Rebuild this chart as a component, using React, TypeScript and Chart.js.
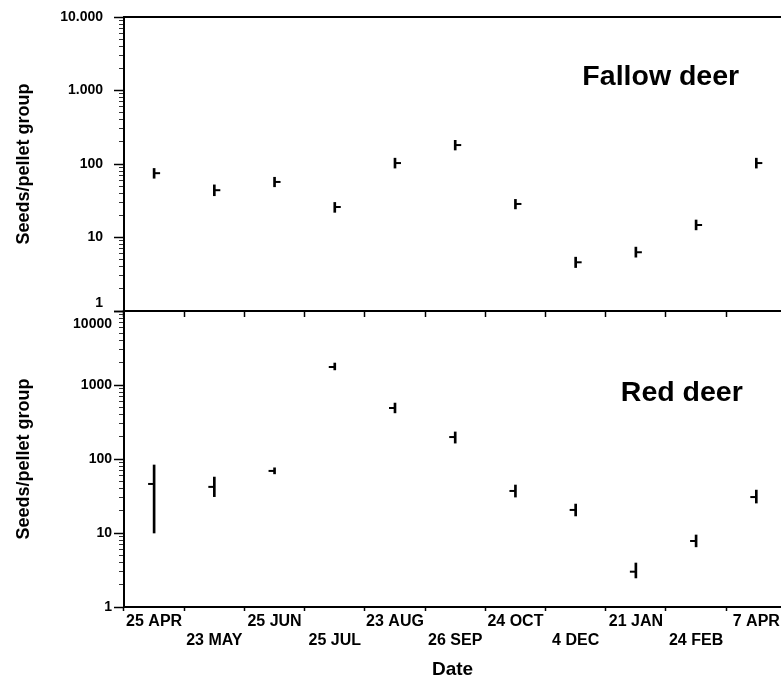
import React, { useEffect, useRef } from 'react';
import Chart from 'chart.js/auto';

const dates = ['25 APR', '23 MAY', '25 JUN', '25 JUL', '23 AUG', '26 SEP', '24 OCT', '4 DEC', '21 JAN', '24 FEB', '7 APR'];

const fallowMean = [75, 44, 57, 26, 103, 181, 28.6, 4.6, 6.3, 14.8, 103];
const fallowLow = [64, 37, 49, 22, 88, 155, 24.5, 3.9, 5.4, 12.7, 88];
const fallowHigh = [87, 52, 66, 30, 120, 210, 33, 5.4, 7.4, 17.3, 120];

const redMean = [46, 42, 69, 1750, 489, 198, 37, 20.5, 3.0, 7.8, 30.6];
const redLow = [10, 31, 63, 1600, 420, 164, 30.6, 17, 2.47, 6.5, 25.4];
const redHigh = [83, 57, 76, 1980, 570, 232, 44.5, 24.6, 3.93, 9.4, 38];

const majorTicks = [1, 10, 100, 1000, 10000];
const fallowTickLabels = ['1', '10', '100', '1.000', '10.000'];
const redTickLabels = ['1', '10', '100', '1000', '10000'];
const minorMultipliers = [2, 3, 4, 5, 6, 7, 8, 9];

const FONT = '"Liberation Sans", Arial, Helvetica, sans-serif';
const X_MIN = -0.5;
const X_MAX = 10.41;

const yTickValues: number[] = [];
majorTicks.forEach((d, i) => {
  yTickValues.push(d);
  if (i < majorTicks.length - 1) minorMultipliers.forEach((m) => yTickValues.push(d * m));
});

const isMajor = (v: number) => majorTicks.indexOf(v) >= 0;

const panelLabelPlugin = {
  id: 'panelLabel',
  afterDraw(chart: any, _args: any, opts: any) {
    if (!opts || !opts.text) return;
    const { ctx, chartArea } = chart;
    ctx.save();
    ctx.font = `bold ${opts.size}px ${FONT}`;
    ctx.fillStyle = '#000';
    ctx.textAlign = 'center';
    ctx.textBaseline = 'middle';
    ctx.fillText(
      opts.text,
      chartArea.left + opts.fx * (chartArea.right - chartArea.left),
      chartArea.top + opts.fy * (chartArea.bottom - chartArea.top)
    );
    ctx.restore();
  },
};

function yAxis(labels: string[], specialValue: number, specialLabel: string[], specialLH: string, labelPad: number) {
  return {
    type: 'logarithmic',
    position: 'left',
    min: 1,
    max: 10000,
    afterBuildTicks: (scale: any) => {
      scale.ticks = yTickValues.map((v) => ({ value: v }));
    },
    afterFit: (scale: any) => {
      scale.width = 124;
      scale.paddingTop = 0;
      scale.paddingBottom = 0;
    },
    ticks: {
      autoSkip: false,
      padding: labelPad,
      color: '#000',
      callback: (value: number) => {
        const i = majorTicks.indexOf(value);
        if (i < 0) return '';
        if (value === specialValue) return specialLabel;
        return labels[i];
      },
      font: (ctx: any) => ({
        family: FONT,
        size: 14,
        weight: 'bold',
        lineHeight: ctx.tick && ctx.tick.value === specialValue ? specialLH : 1.2,
      }),
    },
    grid: {
      drawOnChartArea: false,
      drawTicks: true,
      tickLength: 10,
      tickColor: (ctx: any) => (ctx.tick && isMajor(ctx.tick.value) ? '#000' : '#333'),
      tickWidth: (ctx: any) => (ctx.tick && isMajor(ctx.tick.value) ? 1.5 : 1),
      tickBorderDash: (ctx: any) => (ctx.tick && isMajor(ctx.tick.value) ? [] : [0, 5, 5, 100]),
    },
    border: { display: true, color: '#000', width: 2 },
    title: {
      display: true,
      text: 'Seeds/pellet group',
      color: '#000',
      font: { family: FONT, size: 18, weight: 'bold' },
      padding: { top: 13, bottom: 0 },
    },
  };
}

const xTicksBuild = (scale: any) => {
  scale.ticks = dates.map((_, i) => ({ value: i }));
};

function plainX(position: string, height: number, tickLength: number, showTicks: boolean) {
  return {
    type: 'linear',
    position,
    min: X_MIN,
    max: X_MAX,
    bounds: 'data',
    offset: false,
    afterBuildTicks: xTicksBuild,
    afterFit: (scale: any) => {
      scale.height = height;
      scale.paddingLeft = 0;
      scale.paddingRight = 0;
    },
    ticks: { display: false },
    grid: {
      display: showTicks,
      drawOnChartArea: false,
      drawTicks: showTicks,
      tickLength,
      offset: true,
      tickColor: '#000',
      tickWidth: 1.5,
    },
    border: { display: true, color: '#000', width: 2 },
  };
}

function datasets(low: number[], high: number[], mean: number[], rotation: number) {
  return [
    {
      type: 'bar',
      data: dates.map((_, i) => ({ x: i, y: [low[i], high[i]] })),
      backgroundColor: '#000',
      borderWidth: 0,
      barThickness: 2,
    },
    {
      type: 'scatter',
      data: dates.map((_, i) => ({ x: i, y: mean[i] })),
      pointStyle: 'dash',
      pointRadius: 6,
      borderColor: '#000',
      backgroundColor: '#000',
      borderWidth: 2,
      rotation,
    },
  ];
}

function topConfig(): any {
  return {
    type: 'scatter',
    data: { datasets: datasets(fallowLow, fallowHigh, fallowMean, 0) },
    options: {
      animation: false,
      responsive: false,
      events: [],
      layout: { padding: 0, autoPadding: false },
      plugins: {
        legend: { display: false },
        tooltip: { enabled: false },
        panelLabel: { text: 'Fallow deer', size: 28.5, fx: 0.817, fy: 0.204 },
      },
      scales: {
        x: plainX('bottom', 9, 0, false),
        xTop: plainX('top', 17, 0, false),
        y: yAxis(fallowTickLabels, 1, ['1', ''], '16px', 11),
      },
    },
    plugins: [panelLabelPlugin],
  };
}

function botConfig(): any {
  return {
    type: 'scatter',
    data: { datasets: datasets(redLow, redHigh, redMean, 180) },
    options: {
      animation: false,
      responsive: false,
      events: [],
      layout: { padding: 0, autoPadding: false },
      plugins: {
        legend: { display: false },
        tooltip: { enabled: false },
        panelLabel: { text: 'Red deer', size: 28.5, fx: 0.849, fy: 0.277 },
      },
      scales: {
        x: {
          type: 'linear',
          position: 'bottom',
          min: X_MIN,
          max: X_MAX,
          bounds: 'data',
          offset: false,
          afterBuildTicks: xTicksBuild,
          afterFit: (scale: any) => {
            scale.height = 72;
            scale.paddingLeft = 0;
            scale.paddingRight = 0;
          },
          ticks: {
            autoSkip: false,
            maxRotation: 0,
            minRotation: 0,
            padding: 1,
            color: '#000',
            font: { family: FONT, size: 16, weight: 'bold', lineHeight: '19px' },
            callback: (value: number) => {
              const i = Math.round(value);
              const label = dates[i];
              if (label === undefined) return '';
              return i % 2 === 0 ? label : ['', label];
            },
          },
          grid: {
            drawOnChartArea: false,
            drawTicks: true,
            tickLength: 4,
            offset: true,
            tickColor: '#000',
            tickWidth: 1.5,
          },
          border: { display: true, color: '#000', width: 2 },
          title: {
            display: true,
            text: 'Date',
            color: '#000',
            font: { family: FONT, size: 19, weight: 'bold', lineHeight: 1 },
            padding: 0,
          },
        },
        xTop: plainX('top', 11, -6, true),
        y: yAxis(redTickLabels, 10000, ['', '10000'], '26px', 2),
      },
    },
    plugins: [panelLabelPlugin],
  };
}

export default function App() {
  const topRef = useRef<HTMLCanvasElement>(null);
  const botRef = useRef<HTMLCanvasElement>(null);

  useEffect(() => {
    const top = new Chart(topRef.current as HTMLCanvasElement, topConfig());
    const bot = new Chart(botRef.current as HTMLCanvasElement, botConfig());
    return () => {
      top.destroy();
      bot.destroy();
    };
  }, []);

  return (
    <div
      style={{
        position: 'absolute',
        left: 0,
        top: 0,
        width: 781,
        height: 679,
        background: '#fff',
        overflow: 'hidden',
      }}
    >
      <canvas ref={botRef} width={781} height={379} style={{ position: 'absolute', left: 0, top: 300 }} />
      <canvas ref={topRef} width={781} height={320} style={{ position: 'absolute', left: 0, top: 0 }} />
    </div>
  );
}
